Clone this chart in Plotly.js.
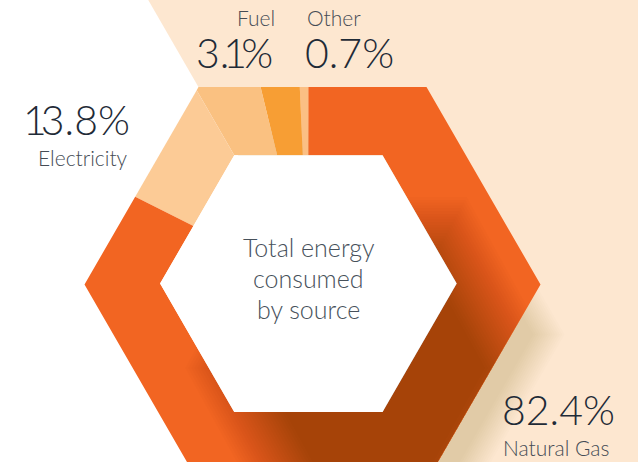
<!DOCTYPE html>
<html><head><meta charset="utf-8">
<script src="https://cdn.plot.ly/plotly-3.0.1.min.js"></script>
<style>html,body{margin:0;padding:0;background:#fff;overflow:hidden}</style>
</head><body><div id="chart" style="width:638px;height:462px"></div>
<script>
// ---------- data ----------
const labels = ['Other', 'Fuel', 'Electricity', 'Natural Gas'];
const values = [0.7, 3.1, 13.8, 82.4];
const valueText = ['0.7%', '3.1%', '13.8%', '82.4%'];
const centerTitle = 'Total energy<br>consumed<br>by source';

// ---------- style ----------
// colour per slice: [top sector, other sectors]
const sliceColors = {
  'Other': ['#FBBF84', '#FBBF84'],
  'Fuel': ['#F79E34', '#F79E34'],
  'Electricity': ['#FAC181', '#FCCB96'],
  'Natural Gas': ['#F26522', '#F26522']
};
const W = 638, H = 462;
const OUT = {cx: 312.5, cy: 284.5, r: 228};
const INN = {cx: 308.4, cy: 283.6, r: 148.3};
const S3 = Math.sqrt(3) / 2;

function hexVerts(cx, cy, r, sy) {
  const ry = r * S3 * (sy || 1);
  return [[cx + r, cy], [cx + r / 2, cy + ry], [cx - r / 2, cy + ry],
          [cx - r, cy], [cx - r / 2, cy - ry], [cx + r / 2, cy - ry]];
}
const outerHex = hexVerts(OUT.cx, OUT.cy, OUT.r);
const innerHex = hexVerts(INN.cx, INN.cy, INN.r);
const C = [INN.cx, INN.cy];

function dir(phi) { const a = phi * Math.PI / 180; return [-Math.sin(a), -Math.cos(a)]; }
function angOf(p) { let a = Math.atan2(-(p[0] - C[0]), -(p[1] - C[1])) * 180 / Math.PI; return (a + 360) % 360; }
function rayHit(poly, phi) {
  const d = dir(phi); let best = null;
  for (let i = 0; i < poly.length; i++) {
    const p = poly[i], q = poly[(i + 1) % poly.length];
    const ex = q[0] - p[0], ey = q[1] - p[1];
    const den = d[0] * ey - d[1] * ex;
    if (Math.abs(den) < 1e-12) continue;
    const wx = p[0] - C[0], wy = p[1] - C[1];
    const t = (wx * ey - wy * ex) / den;
    const u = (wx * d[1] - wy * d[0]) / den;
    if (t > 0 && u >= -1e-9 && u <= 1 + 1e-9) { if (best === null || t < best) best = t; }
  }
  return [C[0] + d[0] * best, C[1] + d[1] * best];
}
function arcPts(poly, a0, a1) {
  const pts = [rayHit(poly, a0)];
  poly.map(v => ({v, a: angOf(v)})).filter(o => o.a > a0 + 1e-6 && o.a < a1 - 1e-6)
      .sort((m, n) => m.a - n.a).forEach(o => pts.push(o.v));
  pts.push(rayHit(poly, a1));
  return pts;
}
function piece(a0, a1) {
  const o = arcPts(outerHex, a0, a1), i = arcPts(innerHex, a0, a1).reverse();
  return o.concat(i);
}
function sectorOf(a) { const m = ((a % 360) + 360) % 360; return (m >= 330 || m < 30) ? 0 : 1; }

// convex polygon clipping (Sutherland-Hodgman)
function clip(subject, clipper) {
  let out = subject;
  const n = clipper.length;
  let area = 0; for (let i = 0; i < n; i++) { const p = clipper[i], q = clipper[(i + 1) % n]; area += p[0] * q[1] - q[0] * p[1]; }
  const sgn = area > 0 ? 1 : -1;
  for (let i = 0; i < n; i++) {
    const A = clipper[i], B = clipper[(i + 1) % n];
    const inside = P => sgn * ((B[0] - A[0]) * (P[1] - A[1]) - (B[1] - A[1]) * (P[0] - A[0])) >= 0;
    const inter = (P, Q) => {
      const a1 = B[1] - A[1], b1 = A[0] - B[0], c1 = a1 * A[0] + b1 * A[1];
      const a2 = Q[1] - P[1], b2 = P[0] - Q[0], c2 = a2 * P[0] + b2 * P[1];
      const det = a1 * b2 - a2 * b1;
      return [(b2 * c1 - b1 * c2) / det, (a1 * c2 - a2 * c1) / det];
    };
    const input = out; out = [];
    for (let j = 0; j < input.length; j++) {
      const P = input[j], Q = input[(j + 1) % input.length];
      const pin = inside(P), qin = inside(Q);
      if (pin) { out.push(P); if (!qin) out.push(inter(P, Q)); }
      else if (qin) { out.push(inter(P, Q)); }
    }
    if (!out.length) break;
  }
  return out;
}
function polyTrace(pts, color, name) {
  const xs = pts.map(p => p[0]), ys = pts.map(p => p[1]);
  xs.push(xs[0]); ys.push(ys[0]);
  return {type: 'scatter', mode: 'lines', x: xs, y: ys, fill: 'toself', fillcolor: color,
          line: {width: 0, color: 'rgba(0,0,0,0)'}, hoverinfo: 'skip', showlegend: false, name: name || ''};
}

// background peach region: line through outer top-left vertex parallel to upper-right edge
const tl = outerHex[4], ur = outerHex[5], rv = outerHex[0];
const slope = (rv[1] - ur[1]) / (rv[0] - ur[0]);
const xTop = tl[0] - tl[1] / slope, xBot = tl[0] + (H - tl[1]) / slope;
const peach = [[xTop, 0], [W + 5, 0], [W + 5, H + 5], [xBot + 5 / slope, H + 5]];

const traces = [];
// outer drop shadow on peach
(function () {
  const n = 14, tot = 0.13, a = 1 - Math.pow(1 - tot, 1 / n);
  for (let k = 0; k < n; k++) {
    const r = OUT.r - 8 + k * 2.4;
    const poly = clip(hexVerts(OUT.cx + 1, OUT.cy + 50, r), peach);
    if (poly.length > 2) traces.push(polyTrace(poly, 'rgba(110,70,30,' + a.toFixed(4) + ')'));
  }
})();

// slices
let cum = 0;
labels.forEach((lab, idx) => {
  const a0 = cum * 3.6, a1 = (cum + values[idx]) * 3.6;
  cum += values[idx];
  const bounds = [a0];
  [30, 90, 150, 210, 270, 330].forEach(b => { if (b > a0 + 1e-6 && b < a1 - 1e-6) bounds.push(b); });
  bounds.push(a1);
  const runs = [];
  for (let i = 0; i < bounds.length - 1; i++) {
    const col = sliceColors[lab][sectorOf((bounds[i] + bounds[i + 1]) / 2)];
    if (runs.length && runs[runs.length - 1].col === col) runs[runs.length - 1].b = bounds[i + 1];
    else runs.push({a: bounds[i], b: bounds[i + 1], col});
  }
  runs.forEach(rn => traces.push(polyTrace(piece(rn.a, rn.b), rn.col, lab)));
});

// inner shading (shadow of the hole) on the ring
(function () {
  const n = 26, tot = 0.24, a = 1 - Math.pow(1 - tot, 1 / n);
  for (let k = 0; k < n; k++) {
    const r = 150 + 38 - k * (76 / (n - 1));
    const poly = clip(hexVerts(373, 368, r, 1.05), outerHex);
    if (poly.length > 2) traces.push(polyTrace(poly, 'rgba(30,8,0,' + a.toFixed(4) + ')'));
  }
})();

function pathOf(pts) { return 'M' + pts.map(p => p[0].toFixed(2) + ',' + p[1].toFixed(2)).join('L') + 'Z'; }
// tighten the wide tabular "1" of the font
function tight(s) { return s.replace(/(.?)1/g, (m, p) => '<span style="letter-spacing:-6px">' + p + '1</span>'); }

const FAM = 'Lato, "Open Sans", sans-serif';
const numFont = {family: FAM, size: 41, color: '#1F2B37', weight: 300};
const labFont = {family: FAM, size: 21, color: '#454C55', weight: 300};
const cenFont = {family: FAM, size: 25, color: '#47515B', weight: 300};
const centerLines = centerTitle.split('<br>');
const annotations = [
  {x: 277, y: 17, text: labels[1], xanchor: 'right', yanchor: 'middle', font: labFont},
  {x: 275, y: 52, text: tight(valueText[1]), xanchor: 'right', yanchor: 'middle', font: numFont},
  {x: 305, y: 17, text: labels[0], xanchor: 'left', yanchor: 'middle', font: labFont},
  {x: 303, y: 52, text: tight(valueText[0]), xanchor: 'left', yanchor: 'middle', font: numFont},
  {x: 132, y: 119, text: tight(valueText[2]), xanchor: 'right', yanchor: 'middle', font: numFont},
  {x: 130, y: 157, text: labels[2], xanchor: 'right', yanchor: 'middle', font: labFont},
  {x: 500, y: 409, text: tight(valueText[3]), xanchor: 'left', yanchor: 'middle', font: numFont},
  {x: 501, y: 447, text: labels[3], xanchor: 'left', yanchor: 'middle', font: labFont}
].concat(centerLines.map((t, i) => ({x: 308.5, y: 247.3 + i * 31, text: t, xanchor: 'center', yanchor: 'middle', font: cenFont})))
 .map(a => Object.assign({xref: 'x', yref: 'y', showarrow: false}, a));

const layout = {
  width: W, height: H, margin: {l: 0, r: 0, t: 0, b: 0, pad: 0},
  paper_bgcolor: '#FFFFFF', plot_bgcolor: 'rgba(0,0,0,0)',
  xaxis: {range: [0, W], visible: false, fixedrange: true},
  yaxis: {range: [H, 0], visible: false, fixedrange: true},
  showlegend: false, hovermode: false,
  shapes: [
    {type: 'path', xref: 'x', yref: 'y', path: pathOf(peach), fillcolor: '#FDE7D0', line: {width: 0}, layer: 'below'},
    {type: 'path', xref: 'x', yref: 'y', path: pathOf(innerHex), fillcolor: '#FFFFFF', line: {width: 0}, layer: 'above'}
  ],
  annotations
};
Plotly.newPlot('chart', traces, layout, {staticPlot: true, displayModeBar: false});
</script></body></html>
